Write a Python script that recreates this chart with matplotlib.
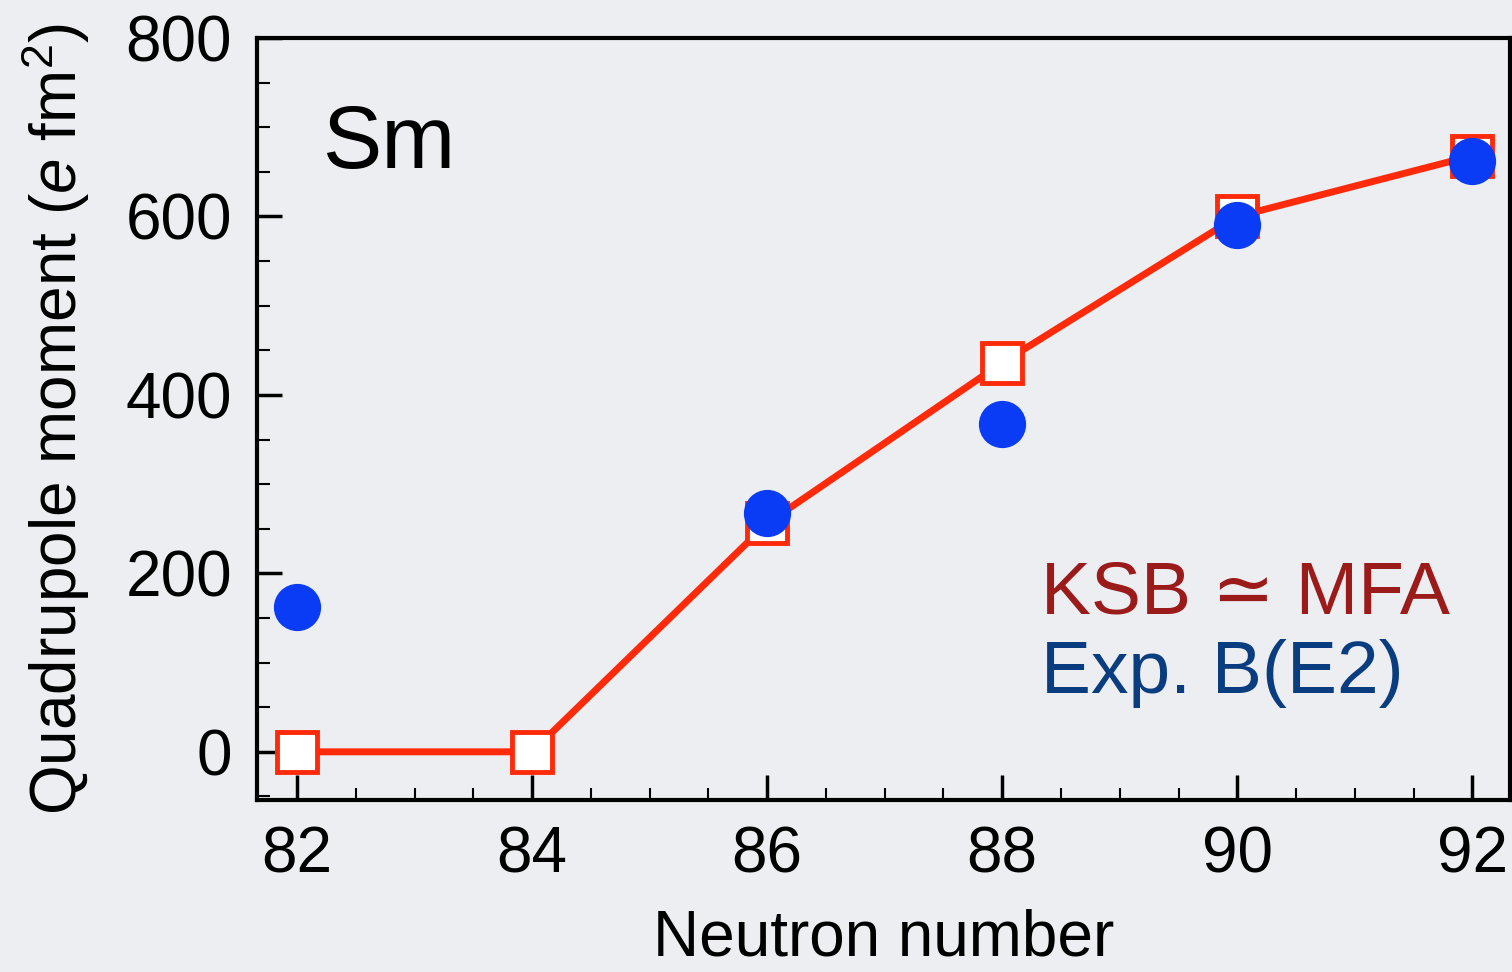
import matplotlib.pyplot as plt
from matplotlib.ticker import MultipleLocator

plt.rcParams['font.family'] = ['Liberation Sans', 'DejaVu Sans']
plt.rcParams['mathtext.fontset'] = 'custom'
plt.rcParams['mathtext.rm'] = 'Liberation Sans'
plt.rcParams['mathtext.it'] = 'Liberation Sans:italic'

neutrons = [82, 84, 86, 88, 90, 92]
ksb = [0, 0, 256, 436, 600, 668]
exp_n = [82, 86, 88, 90, 92]
exp_q = [162, 268, 367, 590, 662]

bg = '#eceef2'
fig = plt.figure(figsize=(15.12, 9.72), dpi=100, facecolor=bg)
ax = fig.add_axes([257 / 1512, 1 - 800 / 972, 1253 / 1512, 762 / 972])
ax.set_facecolor(bg)

ax.plot(neutrons, ksb, color='#ff2a0a', lw=5, marker='s', ms=29,
        mfc='white', mec='#ff2a0a', mew=3.5, zorder=3)
ax.plot(exp_n, exp_q, 'o', color='#0a3cf5', ms=33, zorder=4, lw=0)

ax.set_xlim(81.66, 92.32)
ax.set_ylim(-54, 800)
ax.xaxis.set_major_locator(MultipleLocator(2))
ax.xaxis.set_minor_locator(MultipleLocator(0.5))
ax.yaxis.set_major_locator(MultipleLocator(200))
ax.yaxis.set_minor_locator(MultipleLocator(50))
ax.tick_params(which='major', direction='in', length=18, width=2.5,
               labelsize=46, pad=18)
ax.tick_params(which='minor', direction='in', length=9, width=1.5)
for s in ax.spines.values():
    s.set_linewidth(3)

ax.set_xlabel('Neutron number', fontsize=46, labelpad=17)
ax.set_ylabel(r'Quadrupole moment ($e$ fm$^2$)', fontsize=46, labelpad=24)

ax.text(0.053, 0.83, 'Sm', transform=ax.transAxes, fontsize=64)
ax.text(0.626, 0.245, 'KSB ≃ MFA', transform=ax.transAxes, fontsize=54,
        color='#9b1a1a')
ax.text(0.626, 0.14, 'Exp. B(E2)', transform=ax.transAxes, fontsize=54,
        color='#0a3d80')

fig.savefig('out.png', dpi=100, facecolor=bg)
